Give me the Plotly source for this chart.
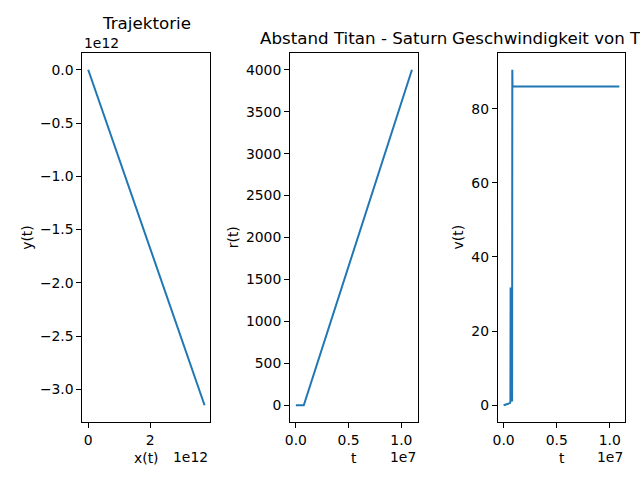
import plotly.graph_objects as go

W, H = 640, 480
BLUE = "#1f77b4"
FONT = "DejaVu Sans"

# Trajektorie
traj_x = [0.0, 3.76e12]
traj_y = [0.0, -3.15e12]

# Abstand Titan - Saturn
r_t = [0.0, 0.075e7, 1.1e7]
r_val = [0.0, 0.0, 4000.0]

# Geschwindigkeit von Titan
v_t = [0.0, 0.02e7, 0.04e7, 0.06e7, 0.064e7, 0.066e7, 0.068e7, 0.070e7,
       0.072e7, 0.074e7, 0.076e7, 0.078e7, 0.080e7, 0.082e7, 0.084e7, 1.09e7]
v_val = [0.0, 0.2, 0.4, 0.6, 1.0, 31.8, 2.0, 26.4, 1.0, 10.0, 3.0, 25.0,
         1.0, 90.5, 86.0, 86.0]

x1_ticks = [0, 2e12]
x1_text = ["0", "2"]
y1_ticks = [0, -0.5e12, -1.0e12, -1.5e12, -2.0e12, -2.5e12, -3.0e12]
y1_text = ["0.0", "\u22120.5", "\u22121.0", "\u22121.5", "\u22122.0", "\u22122.5", "\u22123.0"]
t_ticks = [0, 0.5e7, 1.0e7]
t_text = ["0.0", "0.5", "1.0"]
r_ticks = [0, 500, 1000, 1500, 2000, 2500, 3000, 3500, 4000]
v_ticks = [0, 20, 40, 60, 80]


def px(x):
    return x / W


def py(y):
    return 1 - y / H


fig = go.Figure()
fig.add_trace(go.Scatter(x=traj_x, y=traj_y, mode="lines",
                         line=dict(color=BLUE, width=2), xaxis="x", yaxis="y"))
fig.add_trace(go.Scatter(x=r_t, y=r_val, mode="lines",
                         line=dict(color=BLUE, width=2), xaxis="x2", yaxis="y2"))
fig.add_trace(go.Scatter(x=v_t, y=v_val, mode="lines",
                         line=dict(color=BLUE, width=2), xaxis="x3", yaxis="y3"))

ax_common = dict(showline=True, linecolor="black", linewidth=1, mirror=True,
                 ticks="outside", ticklen=5, tickwidth=1, tickcolor="black",
                 showgrid=False, zeroline=False,
                 tickfont=dict(family=FONT, size=13.9, color="black"))

ydom = [py(422), py(53)]
fig.update_layout(
    width=W, height=H, showlegend=False,
    margin=dict(l=0, r=0, t=0, b=0),
    paper_bgcolor="white", plot_bgcolor="white",
    xaxis=dict(domain=[px(78), px(207)], range=[-0.188e12, 3.948e12], anchor="y",
               tickvals=x1_ticks, ticktext=x1_text, **ax_common),
    yaxis=dict(domain=ydom, range=[-3.3075e12, 0.1575e12], anchor="x",
               tickvals=y1_ticks, ticktext=y1_text, **ax_common),
    xaxis2=dict(domain=[px(287.3), px(416)], range=[-0.055e7, 1.155e7], anchor="y2",
                tickvals=t_ticks, ticktext=t_text, **ax_common),
    yaxis2=dict(domain=ydom, range=[-200, 4200], anchor="x2",
                tickvals=r_ticks, **ax_common),
    xaxis3=dict(domain=[px(496.7), px(625)], range=[-0.0545e7, 1.1445e7], anchor="y3",
                tickvals=t_ticks, ticktext=t_text, **ax_common),
    yaxis3=dict(domain=ydom, range=[-4.5, 95], anchor="x3",
                tickvals=v_ticks, **ax_common),
)

texts = [
    ("Trajektorie", 142.5, 23, 16.7, 0, "center"),
    ("Abstand Titan - Saturn", 351.5, 38, 16.7, 0, "center"),
    ("Geschwindigkeit von Titan", 561, 38, 16.7, 0, "center"),
    ("1e12", 78, 43, 13.9, 0, "left"),
    ("1e12", 207, 457, 13.9, 0, "right"),
    ("1e7", 416, 457, 13.9, 0, "right"),
    ("1e7", 625, 457, 13.9, 0, "right"),
    ("x(t)", 142.5, 458, 13.9, 0, "center"),
    ("t", 351.5, 458, 13.9, 0, "center"),
    ("t", 561, 458, 13.9, 0, "center"),
    ("y(t)", 22, 237, 13.9, -90, "center"),
    ("r(t)", 230, 237, 13.9, -90, "center"),
    ("v(t)", 457, 237, 13.9, -90, "center"),
]
for txt, x, y, size, ang, xa in texts:
    fig.add_annotation(text=txt, x=px(x), y=py(y), xref="paper", yref="paper",
                       xanchor=xa, yanchor="middle", showarrow=False, textangle=ang,
                       font=dict(family=FONT, size=size, color="black"))

# drop the page's default body margin so the figure sits at the window's corner
fig.write_html("out.html", config={"displayModeBar": False},
               post_script="document.body.style.margin = '0';")
